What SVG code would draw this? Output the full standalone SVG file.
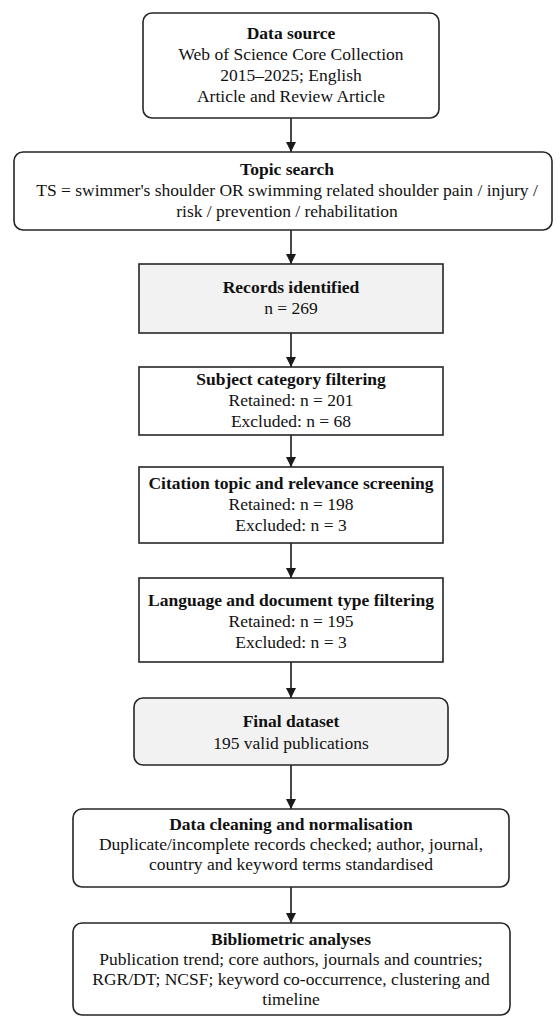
<svg xmlns="http://www.w3.org/2000/svg" width="560" height="1017" viewBox="0 0 560 1017">
<defs>
<marker id="ah" viewBox="0 0 10 10" refX="10" refY="5" markerWidth="10" markerHeight="10" markerUnits="userSpaceOnUse" orient="auto">
<path d="M0,0 L10,5 L0,10 Z" fill="#1a1a1a"/>
</marker>
</defs>
<style>
.box{fill:#ffffff;stroke:#262626;stroke-width:1.6}
.grey{fill:#f2f2f2;stroke:#262626;stroke-width:1.6}
.t{font-family:"Liberation Serif","Times New Roman",serif;font-size:17.5px;fill:#111;text-anchor:middle}
.b{font-weight:bold}
.c{stroke:#1a1a1a;stroke-width:1.6;fill:none;marker-end:url(#ah)}
</style>
<rect width="560" height="1017" fill="#ffffff"/>
<g id="connectors">
<line class="c" x1="291" y1="118" x2="291" y2="152"/>
<line class="c" x1="291" y1="230" x2="291" y2="264"/>
<line class="c" x1="291" y1="333" x2="291" y2="367"/>
<line class="c" x1="291" y1="435" x2="291" y2="467"/>
<line class="c" x1="291" y1="543" x2="291" y2="578"/>
<line class="c" x1="291" y1="662" x2="291" y2="698"/>
<line class="c" x1="291" y1="765" x2="291" y2="809"/>
<line class="c" x1="291" y1="887" x2="291" y2="923"/>
</g>
<g id="n1">
<rect class="box" x="143" y="13" width="296" height="105" rx="9"/>
<text class="t b" x="291" y="39">Data source</text>
<text class="t" x="291" y="60">Web of Science Core Collection</text>
<text class="t" x="291" y="81">2015–2025; English</text>
<text class="t" x="291" y="102">Article and Review Article</text>
</g>
<g id="n2">
<rect class="box" x="14" y="152" width="538" height="78" rx="9"/>
<text class="t b" x="287" y="175">Topic search</text>
<text class="t" x="287" y="196">TS = swimmer's shoulder OR swimming related shoulder pain / injury /</text>
<text class="t" x="287" y="217">risk / prevention / rehabilitation</text>
</g>
<g id="n3">
<rect class="grey" x="139" y="264" width="304" height="69"/>
<text class="t b" x="291" y="293">Records identified</text>
<text class="t" x="291" y="314">n = 269</text>
</g>
<g id="n4">
<rect class="box" x="139" y="367" width="304" height="68"/>
<text class="t b" x="291" y="385">Subject category filtering</text>
<text class="t" x="291" y="406">Retained: n = 201</text>
<text class="t" x="291" y="427">Excluded: n = 68</text>
</g>
<g id="n5">
<rect class="box" x="139" y="467" width="304" height="76"/>
<text class="t b" x="291" y="489">Citation topic and relevance screening</text>
<text class="t" x="291" y="510">Retained: n = 198</text>
<text class="t" x="291" y="531">Excluded: n = 3</text>
</g>
<g id="n6">
<rect class="box" x="139" y="578" width="304" height="84"/>
<text class="t b" x="291" y="606">Language and document type filtering</text>
<text class="t" x="291" y="627">Retained: n = 195</text>
<text class="t" x="291" y="648">Excluded: n = 3</text>
</g>
<g id="n7">
<rect class="grey" x="134" y="698" width="314" height="67" rx="9"/>
<text class="t b" x="291" y="727">Final dataset</text>
<text class="t" x="291" y="749">195 valid publications</text>
</g>
<g id="n8">
<rect class="box" x="73" y="809" width="436" height="78" rx="9"/>
<text class="t b" x="291" y="830">Data cleaning and normalisation</text>
<text class="t" x="291" y="850">Duplicate/incomplete records checked; author, journal,</text>
<text class="t" x="291" y="870">country and keyword terms standardised</text>
</g>
<g id="n9">
<rect class="box" x="73" y="923" width="437" height="92" rx="9"/>
<text class="t b" x="291" y="945">Bibliometric analyses</text>
<text class="t" x="291" y="965">Publication trend; core authors, journals and countries;</text>
<text class="t" x="291" y="985">RGR/DT; NCSF; keyword co-occurrence, clustering and</text>
<text class="t" x="291" y="1005">timeline</text>
</g>
</svg>
